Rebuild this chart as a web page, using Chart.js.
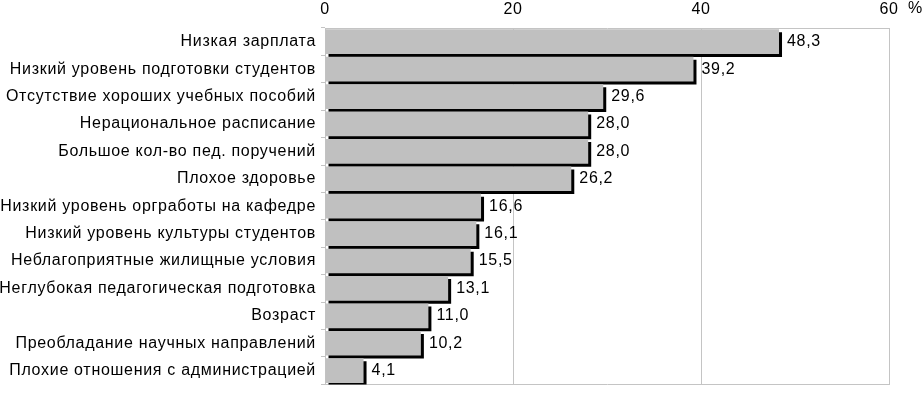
<!DOCTYPE html>
<html>
<head>
<meta charset="utf-8">
<script src="https://cdn.jsdelivr.net/npm/chart.js@4/dist/chart.umd.min.js"></script>
<style>
  html, body { margin:0; padding:0; background:#fff; }
  #wrap { width:924px; height:399px; }
</style>
</head>
<body>
<div id="wrap"><canvas id="chart" width="924" height="399"></canvas></div>
<script>
// data
const categories = [
  "Низкая зарплата",
  "Низкий уровень подготовки студентов",
  "Отсутствие хороших учебных пособий",
  "Нерациональное расписание",
  "Большое кол-во пед. поручений",
  "Плохое здоровье",
  "Низкий уровень оргработы на кафедре",
  "Низкий уровень культуры студентов",
  "Неблагоприятные жилищные условия",
  "Неглубокая педагогическая подготовка",
  "Возраст",
  "Преобладание научных направлений",
  "Плохие отношения с администрацией"
];
const values = [48.3, 39.2, 29.6, 28.0, 28.0, 26.2, 16.6, 16.1, 15.5, 13.1, 11.0, 10.2, 4.1];
const tickValues = [0, 20, 40, 60];
const unitLabel = "%";

const FONT = "'Liberation Sans', Arial, sans-serif";
const GRID = "#c4c4c4";

// bar shadow + value labels
const barDecor = {
  id: "barDecor",
  beforeDraw(chart){
    // reference text is a bit wider than Liberation Sans
    chart.ctx.letterSpacing = "0.7px";
  },
  beforeDatasetsDraw(chart){
    const ctx = chart.ctx;
    ctx.save();
    ctx.shadowColor = "#000";
    ctx.shadowOffsetX = 3;
    ctx.shadowOffsetY = 3;
    ctx.shadowBlur = 0;
  },
  afterDatasetsDraw(chart){
    const ctx = chart.ctx;
    ctx.restore();
    ctx.save();
    ctx.font = "16px " + FONT;
    ctx.fillStyle = "#000";
    ctx.textBaseline = "middle";
    ctx.textAlign = "left";
    chart.getDatasetMeta(0).data.forEach((bar, i) => {
      ctx.fillText(values[i].toFixed(1).replace(".", ","), bar.x + 8, bar.y);
    });
    ctx.restore();
  },
  afterDraw(chart){
    const ctx = chart.ctx;
    const xs = chart.scales.x;
    ctx.save();
    ctx.font = "16px " + FONT;
    ctx.fillStyle = "#000";
    ctx.textBaseline = "middle";
    ctx.textAlign = "left";
    ctx.fillText(unitLabel, xs.right + 19, 9);
    ctx.restore();
    ctx.letterSpacing = "0px";
  }
};

new Chart(document.getElementById("chart"), {
  type: "bar",
  data: {
    labels: categories,
    datasets: [{
      data: values,
      backgroundColor: "#c0c0c0",
      borderWidth: 0,
      barPercentage: 0.9,
      categoryPercentage: 1.0
    }]
  },
  options: {
    indexAxis: "y",
    responsive: false,
    animation: false,
    devicePixelRatio: 1,
    layout: { padding: { top: 0, right: 35, bottom: 6, left: 0 } },
    plugins: { legend: { display: false }, tooltip: { enabled: false } },
    scales: {
      x: {
        position: "top",
        min: 0, max: 60,
        afterBuildTicks: (s) => { s.ticks = tickValues.map(v => ({ value: v })); },
        afterFit: (s) => { s.height = 28; },
        ticks: { color: "#000", font: { family: FONT, size: 16 }, padding: 9 },
        grid: { color: GRID, drawTicks: false, lineWidth: 1 },
        border: { display: true, color: GRID }
      },
      x2: {
        position: "bottom",
        min: 0, max: 60,
        ticks: { display: false },
        grid: { drawOnChartArea: false, drawTicks: false },
        border: { display: true, color: GRID },
        afterFit: (s) => { s.height = 0; }
      },
      y: {
        afterFit: (s) => { s.width = 325; },
        ticks: { color: "#000", font: { family: FONT, size: 16 }, padding: 5, autoSkip: false },
        grid: { drawOnChartArea: false, color: GRID, tickLength: 4, offset: true },
        border: { display: true, color: GRID }
      }
    }
  },
  plugins: [barDecor]
});
</script>
</body>
</html>
